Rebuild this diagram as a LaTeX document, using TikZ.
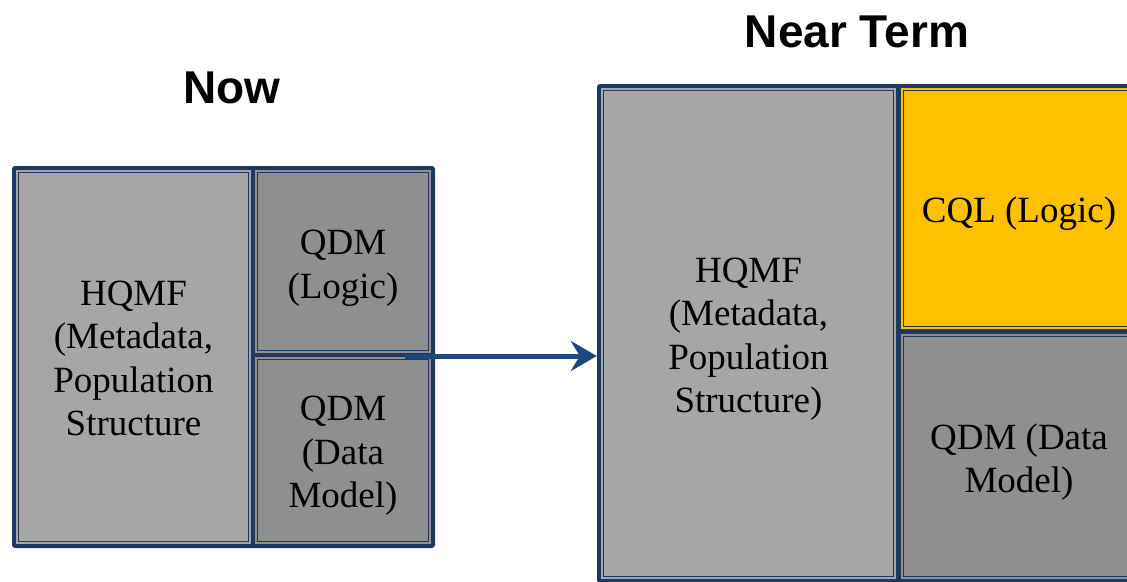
\documentclass[tikz,border=0pt]{standalone}
\usepackage{fontspec}
\setmainfont{Liberation Serif}
\newfontfamily\headfont{Liberation Sans}
\usepackage{xcolor}
\definecolor{framenavy}{RGB}{31,56,96}
\definecolor{arrowblue}{RGB}{31,73,125}
\definecolor{hqgray}{RGB}{166,166,166}
\definecolor{qdmgray}{RGB}{143,143,143}
\definecolor{cqlgold}{RGB}{255,192,0}
\usetikzlibrary{arrows.meta, positioning}

\tikzset{
  frame/.style={fill=framenavy, rounded corners=3pt, inner sep=0pt},
  cell/.style={fill=#1, draw=framenavy, double=#1, line width=0.9pt,
               double distance=1.4pt, inner sep=0pt},
  celltext/.style={align=center, yshift=-5.5pt,
                   font=\fontsize{37}{43.5}\selectfont},
  heading/.style={font=\headfont\bfseries\fontsize{46}{52}\selectfont}
}

\begin{document}
\begin{tikzpicture}[x=1pt, y=-1pt]
  \useasboundingbox (0,0) rectangle (1127,581);

  % now
  \node[heading] (nowtitle) at (232,88) {Now};
  \node[frame, minimum width=423pt, minimum height=382pt] (nowframe) at (223.5,357) {};
  \node[cell=hqgray, minimum width=233pt, minimum height=372pt,
        label={[celltext, yshift=4pt]center:HQMF\\(Metadata,\\Population\\Structure}]
        (nowhqmf) at (133.5,357) {};
  \node[cell=qdmgray, minimum width=174pt, minimum height=181pt,
        label={[celltext, yshift=-1pt]center:QDM\\(Logic)}]
        (nowlogic) at (343,261.5) {};
  \node[cell=qdmgray, minimum width=174pt, minimum height=185pt,
        label={[celltext]center:QDM\\(Data\\Model)}]
        (nowdata) at (343,450.5) {};

  % near term
  \node[heading] (neartitle) at (857,32) {Near Term};
  \node[frame, minimum width=544pt, minimum height=499pt] (nearframe) at (869,333.5) {};
  \node[cell=hqgray, minimum width=293pt, minimum height=489pt,
        label={[celltext]center:HQMF\\(Metadata,\\Population\\Structure)}]
        (nearhqmf) at (748.5,333.5) {};
  \node[cell=cqlgold, minimum width=234pt, minimum height=239pt,
        label={[celltext]center:CQL (Logic)}]
        (nearcql) at (1019,208.5) {};
  \node[cell=qdmgray, minimum width=234pt, minimum height=243pt,
        label={[celltext]center:QDM (Data\\Model)}]
        (neardata) at (1019,456.5) {};

  \coordinate (arrowstart) at (405,356);
  \draw[-{Stealth[length=26pt, width=30pt, inset=9pt]}, line width=5pt, arrowblue]
       (arrowstart) -- (arrowstart -| nearframe.west);
\end{tikzpicture}
\end{document}
